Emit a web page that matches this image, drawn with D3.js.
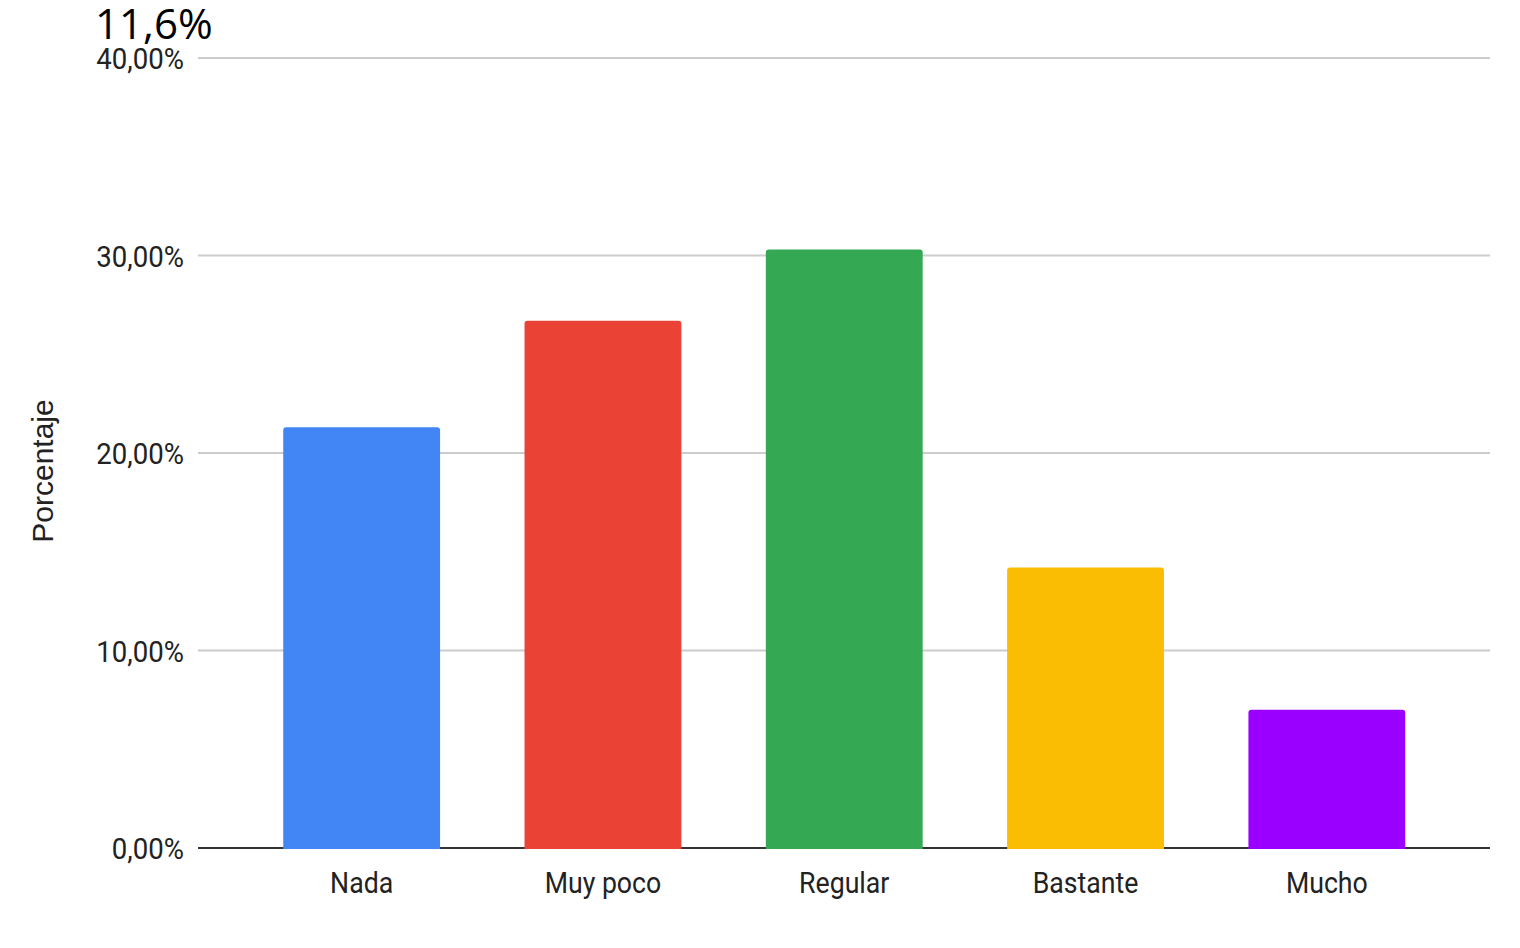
<!DOCTYPE html>
<html><head><meta charset="utf-8">
<script src="https://cdn.jsdelivr.net/npm/d3@7/dist/d3.min.js"></script>
<style>html,body{margin:0;padding:0;background:#fff;}</style>
</head><body>
<svg id="chart" width="1520" height="948"></svg>
<script>
const categories = ["Nada", "Muy poco", "Regular", "Bastante", "Mucho"];
const values = [21.3, 26.7, 30.3, 14.2, 7.0];
const colors = ["#4285f4", "#ea4335", "#34a853", "#fbbc04", "#9900ff"];
const yTicks = [0, 10, 20, 30, 40];
const titleText = "11,6%";
const yTitle = "Porcentaje";

const svg = d3.select("#chart");
const plotLeft = 198, plotRight = 1490, plotTop = 58, plotBottom = 848;

const y = d3.scaleLinear().domain([0, 40]).range([plotBottom, plotTop]);
const x = d3.scaleBand().domain(categories).range([241, 1447.5]).paddingInner(0.35).paddingOuter(0.175);

const fmt = v => d3.format(".2f")(v).replace(".", ",") + "%";

// gridlines
svg.append("g").selectAll("line").data(yTicks.filter(d => d > 0)).join("line")
  .attr("x1", plotLeft).attr("x2", plotRight)
  .attr("y1", d => y(d)).attr("y2", d => y(d))
  .attr("stroke", "#cccccc").attr("stroke-width", 2);

// baseline
svg.append("line").attr("x1", plotLeft).attr("x2", plotRight)
  .attr("y1", y(0)).attr("y2", y(0)).attr("stroke", "#333333").attr("stroke-width", 2);

// y tick labels
svg.append("g").selectAll("text").data(yTicks).join("text")
  .attr("transform", d => `translate(184,${y(d) + 11}) scale(0.92,1)`)
  .attr("text-anchor", "end")
  .attr("font-family", "Roboto").attr("font-size", 30).attr("fill", "#222")
  .text(fmt);

// bars with rounded top corners
const r = 3;
function barPath(x0, w, yTop, yBot) {
  return `M${x0},${yBot}V${yTop + r}Q${x0},${yTop} ${x0 + r},${yTop}H${x0 + w - r}Q${x0 + w},${yTop} ${x0 + w},${yTop + r}V${yBot}Z`;
}
svg.append("g").selectAll("path").data(categories).join("path")
  .attr("d", (c, i) => barPath(x(c), x.bandwidth(), y(values[i]), y(0) + 1))
  .attr("fill", (c, i) => colors[i]);

// category labels
svg.append("g").selectAll("text").data(categories).join("text")
  .attr("transform", c => `translate(${x(c) + x.bandwidth() / 2},893) scale(0.89,1)`)
  .attr("text-anchor", "middle")
  .attr("font-family", "Roboto").attr("font-size", 30).attr("fill", "#222")
  .text(c => c);

// y axis title
svg.append("text")
  .attr("transform", `translate(53,471) rotate(-90)`)
  .attr("text-anchor", "middle")
  .attr("font-family", "Liberation Sans, Arial").attr("font-size", 30).attr("fill", "#222")
  .text(yTitle);

// top title
svg.append("text").attr("x", 95).attr("y", 39)
  .attr("font-family", "Open Sans").attr("font-size", 42).attr("fill", "#000")
  .text(titleText);
</script>
</body></html>
